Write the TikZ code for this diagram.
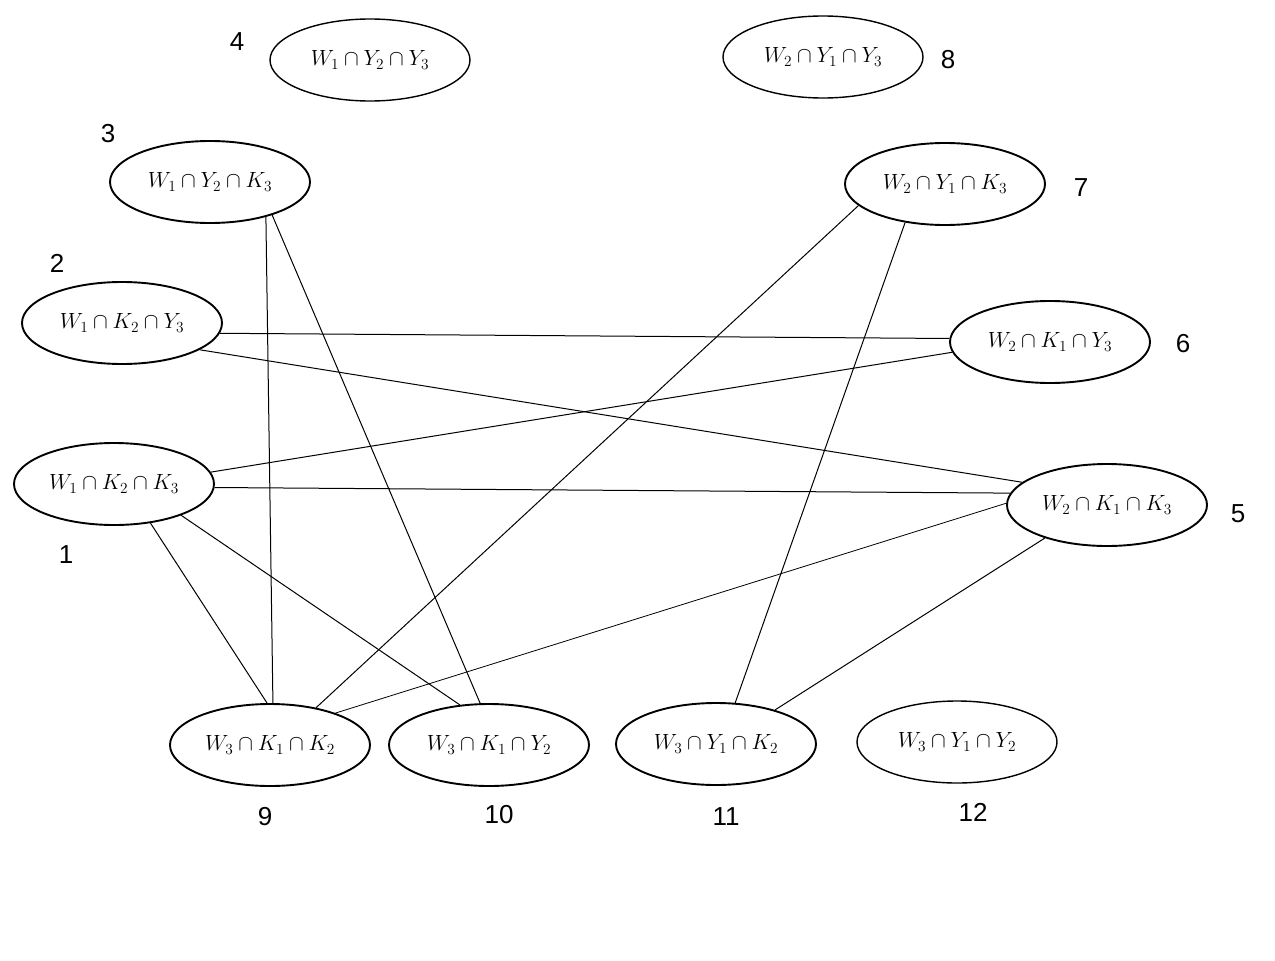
\RequirePackage{fix-cm}
\documentclass[tikz,border=0pt]{standalone}
\usepackage{fontspec}
\newfontfamily\numfont{Liberation Sans}
\usetikzlibrary{shapes.geometric}
\begin{document}
\begin{tikzpicture}[x=1pt,y=-1pt,
  setnode/.style={ellipse,draw,line width=1.9pt,minimum width=200pt,minimum height=82pt,inner sep=0pt,font=\fontsize{22}{26}\selectfont},
  thinset/.style={setnode,line width=1.4pt},
  numlabel/.style={font=\numfont\fontsize{26}{30}\selectfont,inner sep=0pt},
  link/.style={line width=1pt}]
\useasboundingbox[fill=white] (0,0) rectangle (1275,961);
% set nodes
\node[thinset] (n4) at (370,60) {$W_1\cap Y_2\cap Y_3$};
\node[thinset] (n8) at (823,57) {$W_2\cap Y_1\cap Y_3$};
\node[setnode] (n3) at (210,182) {$W_1\cap Y_2\cap K_3$};
\node[setnode] (n7) at (945,184) {$W_2\cap Y_1\cap K_3$};
\node[setnode] (n2) at (122,323) {$W_1\cap K_2\cap Y_3$};
\node[setnode] (n6) at (1050,342) {$W_2\cap K_1\cap Y_3$};
\node[setnode] (n1) at (114,484) {$W_1\cap K_2\cap K_3$};
\node[setnode] (n5) at (1107,505) {$W_2\cap K_1\cap K_3$};
\node[setnode] (n9) at (270,745) {$W_3\cap K_1\cap K_2$};
\node[setnode] (n10) at (489,745) {$W_3\cap K_1\cap Y_2$};
\node[setnode] (n11) at (716,744) {$W_3\cap Y_1\cap K_2$};
\node[thinset] (n12) at (957,742) {$W_3\cap Y_1\cap Y_2$};
% number labels
\node[numlabel] (l4) at (237,42) {4};
\node[numlabel] (l8) at (948,60) {8};
\node[numlabel] (l3) at (108,134) {3};
\node[numlabel] (l7) at (1081,188) {7};
\node[numlabel] (l2) at (57,263) {2};
\node[numlabel] (l6) at (1183,344) {6};
\node[numlabel] (l1) at (66,555) {1};
\node[numlabel] (l5) at (1238,514) {5};
\node[numlabel] (l9) at (265,817) {9};
\node[numlabel] (l10) at (499,815) {10};
\node[numlabel] (l11) at (726,817) {11};
\node[numlabel] (l12) at (973,812) {12};
% connectors
\draw[link] (n3.-32) -- (n9.86);
\draw[link] (n3.-28) -- (n10.102);
\draw[link] (n2.-6) -- (n6.178);
\draw[link] (n2.-19) -- (n5.165);
\draw[link] (n1.7) -- (n6.186);
\draw[link] (n1.-2) -- (n5.173);
\draw[link] (n1.-47) -- (n9.94);
\draw[link] (n1.-25) -- (n10.126);
\draw[link] (n7.-166) -- (n9.39);
\draw[link] (n7.-136) -- (n11.65);
\draw[link,line width=0.8pt] (n5.179) -- (n9.26);
\draw[link] (n5.-152) -- (n11.30);
\end{tikzpicture}
\end{document}
